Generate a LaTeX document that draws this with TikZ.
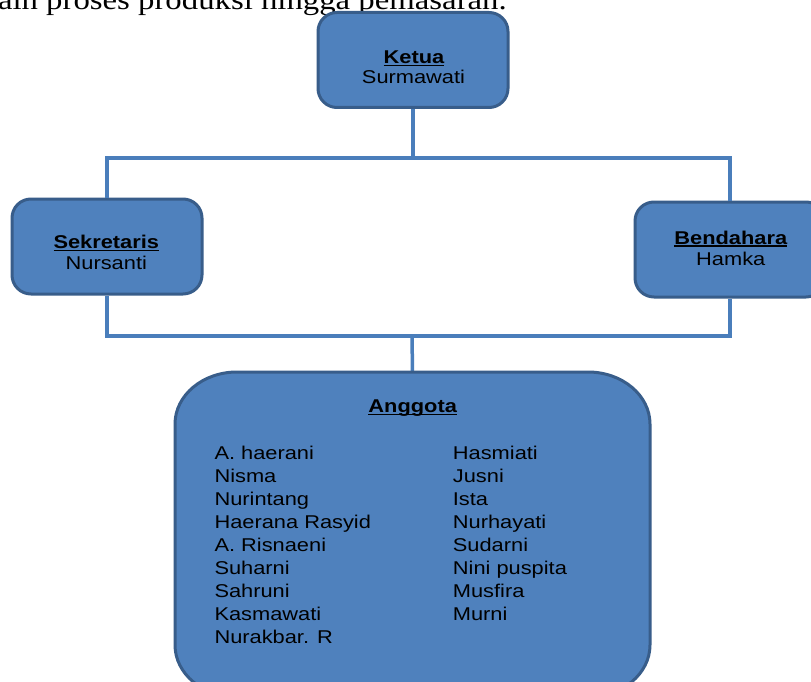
\documentclass[tikz,border=0pt]{standalone}
\usepackage{fontspec}
\setmainfont{Liberation Sans}[FakeStretch=1.18]
\newfontfamily\introfont{Liberation Serif}[FakeStretch=1.15]
\definecolor{boxfill}{HTML}{4F81BD}
\definecolor{boxedge}{HTML}{385D8A}
\definecolor{linkblue}{HTML}{4A7EBB}
% bold title with a low, fixed underline
\newcommand\titleul[1]{\setbox0\hbox{\bfseries #1}\rlap{\rule[-2.8pt]{\wd0}{1.5pt}}\box0}
\begin{document}
\begin{tikzpicture}[x=1pt,y=-1pt,
  orgbox/.style={draw=boxedge, line width=3pt, fill=boxfill, rounded corners=19pt,
    minimum width=190pt, minimum height=95pt, inner sep=0pt},
  boxtext/.style={inner sep=0pt, anchor=base, font=\fontsize{18.5}{23}\selectfont},
  member/.style={inner sep=0pt, anchor=base west, font=\fontsize{18.5}{23}\selectfont},
  link/.style={draw=linkblue, line width=3.5pt}]
\useasboundingbox (0,0) rectangle (811,682);
\clip (0,0) rectangle (811,682);
\fill[white] (0,0) rectangle (811,682);

% last line of the running text above the chart
\node[inner sep=0pt, anchor=base east, font=\introfont\fontsize{28.5}{30}\selectfont] (intro) at (507,9.5) {ain proses produksi hingga pemasaran.};

% junction points of the connectors
\coordinate (topbar) at (413,158);
\coordinate (botbar) at (412,336);

% boxes
\node[orgbox] (ketua) at (413,60) {};
\node[orgbox] (sek) at (107,246.5) {};
\node[orgbox] (ben) at (730,249.5) {};
\node[inner sep=0pt, minimum width=475pt, minimum height=325pt] (ang) at (412.5,534.5) {};

% connectors
\draw[link] (ketua.south) -- (topbar);
\draw[link] (sek.north) |- (topbar) -| (ben.north);
\draw[link] (sek.south) |- (botbar) -| (ben.south);
\draw[link] (botbar) -- (ang.north);

% members box with elliptical corners
\draw[draw=boxedge, line width=3pt, fill=boxfill]
  (175,424) arc[start angle=180, end angle=270, x radius=62, y radius=52]
  -- (588,372) arc[start angle=270, end angle=360, x radius=62, y radius=52]
  -- (650,645) arc[start angle=0, end angle=90, x radius=62, y radius=52]
  -- (237,697) arc[start angle=90, end angle=180, x radius=62, y radius=52]
  -- cycle;

% box texts
\node[boxtext] (ketuaT) at (414,63.3) {\titleul{Ketua}};
\node[boxtext] (ketuaN) at (413.5,83.3) {Surmawati};
\node[boxtext] (sekT) at (106.3,248.3) {\titleul{Sekretaris}};
\node[boxtext] (sekN) at (106.3,269) {Nursanti};
\node[boxtext] (benT) at (730.8,244) {\titleul{Bendahara}};
\node[boxtext] (benN) at (730.8,265) {Hamka};
\node[boxtext] (angT) at (412.7,412.3) {\titleul{Anggota}};

% member names, two columns
\foreach \n [count=\i] in {A. haerani, Nisma, Nurintang, Haerana Rasyid, A. Risnaeni, Suharni, Sahruni, Kasmawati, Nurakbar. R}
  \node[member] (left\i) at (214.3,{459+23*(\i-1)}) {\n};
\foreach \n [count=\i] in {Hasmiati, Jusni, Ista, Nurhayati, Sudarni, Nini puspita, Musfira, Murni}
  \node[member] (right\i) at (452.7,{459+23*(\i-1)}) {\n};
\end{tikzpicture}
\end{document}
